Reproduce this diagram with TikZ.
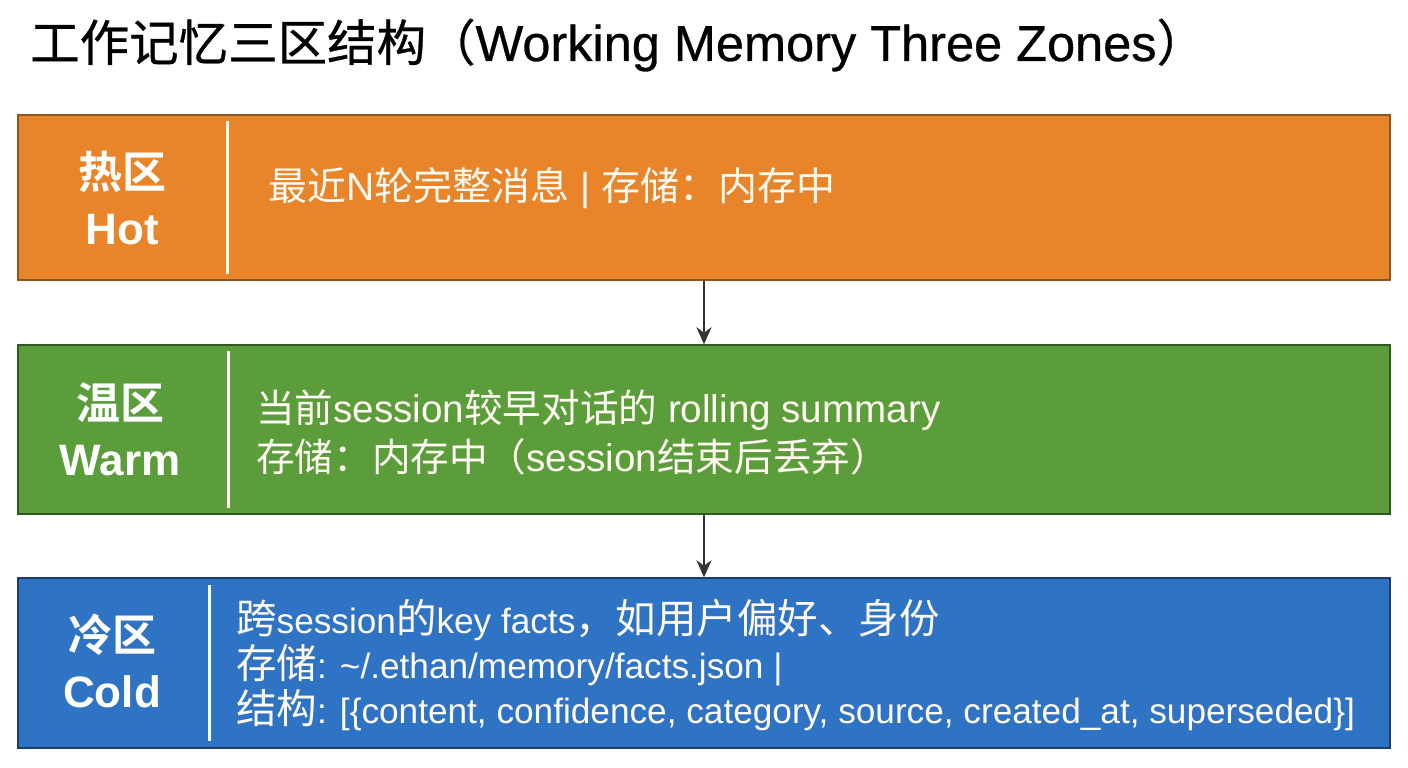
\documentclass[tikz,border=0pt]{standalone}
\usepackage{fontspec}
\setmainfont{Liberation Sans}
\newfontfamily\cjk[BoldFont={Noto Sans CJK SC Bold}]{Noto Sans CJK SC}
\newfontfamily\cjkx[Scale=1.15]{Noto Sans CJK SC}
\newfontfamily\titlelatin[FakeBold=0.6]{Liberation Sans}
\newfontfamily\titlecjk[FakeBold=0.6,Scale=0.98]{Noto Sans CJK SC}
\newcommand\zh[1]{{\cjk #1}}
\newcommand\zhx[1]{{\cjkx #1}}
\newcommand\tzh[1]{{\titlecjk #1}}
\usetikzlibrary{arrows.meta}
\definecolor{hotfill}{HTML}{E8842A}
\definecolor{hotline}{HTML}{8A5424}
\definecolor{warmfill}{HTML}{5A9D3A}
\definecolor{warmline}{HTML}{2F5A1F}
\definecolor{coldfill}{HTML}{2F74C4}
\definecolor{coldline}{HTML}{1E3E68}
\definecolor{arrowgray}{HTML}{333333}
\definecolor{textwhite}{HTML}{FFFAF2}
\tikzset{
  zone/.style={rectangle, minimum width=1372pt, line width=1.5pt, inner sep=0pt},
  label/.style={align=center, text=white, font=\fontsize{44}{56}\selectfont\bfseries, inner sep=0pt},
  body/.style={align=left, text=textwhite, anchor=west, inner sep=0pt},
  divider/.style={textwhite, line width=2.5pt},
  arr/.style={draw=arrowgray, line width=2pt, -{Stealth[length=17pt,width=15pt]}}
}
\begin{document}
\begin{tikzpicture}[x=1pt,y=-1pt]
\useasboundingbox (0,0) rectangle (1408,768);
\fill[white] (0,0) rectangle (1408,768);
\node[anchor=base west, inner sep=0pt, font=\fontsize{50.5}{58}\selectfont\titlelatin] (title) at (30,61)
  {\tzh{工作记忆三区结构（}Working Memory Three Zones\tzh{）}};

\node[zone, fill=hotfill, draw=hotline, minimum height=165pt] (hot) at (704,197.5) {};
\node[zone, fill=warmfill, draw=warmline, minimum height=169pt] (warm) at (704,429.5) {};
\node[zone, fill=coldfill, draw=coldline, minimum height=170pt] (cold) at (704,663) {};

\draw[divider] ([xshift=210pt,yshift=-7pt]hot.north west) -- ([xshift=210pt,yshift=7pt]hot.south west);
\draw[divider] ([xshift=211pt,yshift=-7pt]warm.north west) -- ([xshift=211pt,yshift=7pt]warm.south west);
\draw[divider] ([xshift=192pt,yshift=-8pt]cold.north west) -- ([xshift=192pt,yshift=8pt]cold.south west);

\node[label] (hotlabel) at (122,198) {\zh{热区}\\Hot};
\node[label] (warmlabel) at (120,429) {\zh{温区}\\Warm};
\node[label] (coldlabel) at (112,661) {\zh{冷区}\\Cold};

\node[body, font=\fontsize{39}{45}\selectfont] (hottext) at (268,188)
  {\zh{最近}N\zh{轮完整消息} | \zh{存储：内存中}};
\node[body, font=\fontsize{38.6}{49}\selectfont] (warmtext) at (256,433)
  {\zh{当前}session\zh{较早对话的} rolling summary\\
   \zh{存储：内存中（}session\zh{结束后丢弃）}};
\node[body, font=\fontsize{35.2}{45}\selectfont] (coldtext) at (236,665)
  {\zhx{跨}session\zhx{的}key facts\zhx{，如用户偏好、身份}\\
   \zhx{存储}: \textasciitilde/.ethan/memory/facts.json |\\
   \zhx{结构}: [\{content, confidence, category, source, created\_at, superseded\}]};

\draw[arr] (hot.south) -- (warm.north);
\draw[arr] (warm.south) -- (cold.north);
\end{tikzpicture}
\end{document}
